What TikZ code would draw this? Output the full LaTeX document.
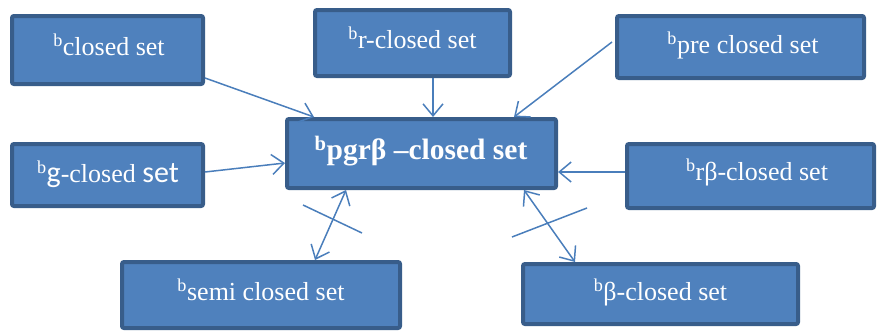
\documentclass[tikz,border=0pt]{standalone}
\usepackage{fontspec}
\setmainfont{Liberation Serif}
\newfontfamily\calibfont{Carlito}
\usetikzlibrary{arrows.meta}
\definecolor{boxfill}{RGB}{79,129,189}
\definecolor{boxline}{RGB}{56,93,138}
\definecolor{arrowc}{RGB}{74,126,187}
\tikzset{
  box/.style={draw=boxline, fill=boxfill, line width=4pt, rounded corners=2pt, inner sep=0pt},
  txt/.style={text=white, font=\fontsize{26}{29}\selectfont, inner sep=0pt},
  conn/.style={draw=arrowc, line width=1.5pt, -{Straight Barb[length=12pt,width=20pt]}},
  dconn/.style={draw=arrowc, line width=1.5pt, {Straight Barb[length=12pt,width=20pt]}-{Straight Barb[length=12pt,width=20pt]}},
  crossl/.style={draw=arrowc, line width=1.5pt}
}
\begin{document}
\begin{tikzpicture}[x=1pt,y=-1pt]
\useasboundingbox (0,0) rectangle (880,332);
% boxes
\node[box, minimum width=191pt, minimum height=68pt] (cs) at (107.5,50) {};
\node[box, minimum width=195pt, minimum height=66pt] (rc) at (412.5,43) {};
\node[box, minimum width=247pt, minimum height=62pt] (pc) at (740.5,47) {};
\node[box, minimum width=269pt, minimum height=69pt] (c) at (421.5,153.5) {};
\node[box, minimum width=191pt, minimum height=62pt] (gc) at (107.5,175) {};
\node[box, minimum width=247pt, minimum height=64pt] (rb) at (750.5,176) {};
\node[box, minimum width=278pt, minimum height=66pt] (sc) at (261,295) {};
\node[box, minimum width=275pt, minimum height=60pt] (bc) at (660.5,294) {};
% texts
\node[txt] (cst) at (109,45) {\textsuperscript{b}closed set};
\node[txt] (rct) at (412.5,38) {\textsuperscript{b}r-closed set};
\node[txt] (pct) at (743,45) {\textsuperscript{b}pre closed set};
\node[txt, font=\fontsize{29.5}{33}\selectfont\bfseries] (ct) at (421,151) {\textsuperscript{b}pgrβ –closed set};
\node[txt] (gct) at (108,174) {\textsuperscript{b}{\calibfont\fontsize{30}{33}\selectfont g}-closed {\calibfont\fontsize{30}{33}\selectfont set}};
\node[txt] (rbt) at (757,172) {\textsuperscript{b}rβ-closed set};
\node[txt] (sct) at (261,290) {\textsuperscript{b}semi closed set};
\node[txt] (bct) at (660.5,292) {\textsuperscript{b}β-closed set};
% connectors
\draw[conn] ([yshift=8pt]cs.south east) -- ([xshift=29pt]c.north west);
\draw[conn] ([xshift=20.5pt]rc.south) -- ([xshift=11.5pt]c.north);
\draw[conn] ([xshift=-3pt,yshift=5pt]pc.west) -- ([xshift=-44pt]c.north east);
\draw[conn] ([yshift=3pt]gc.east) -- ([yshift=-9.5pt]c.west);
\draw[conn] ([yshift=4pt]rb.west) -- ([yshift=-18.5pt]c.east);
\draw[dconn] ([xshift=54pt]sc.north) -- ([xshift=61pt]c.south west);
\draw[dconn] ([xshift=54pt]bc.north west) -- ([xshift=-34pt]c.south east);
% crossing strokes
\coordinate (x1a) at (303,205); \coordinate (x1b) at (362,233);
\coordinate (x2a) at (512,237); \coordinate (x2b) at (587,208);
\draw[crossl] (x1a) -- (x1b);
\draw[crossl] (x2a) -- (x2b);
\end{tikzpicture}
\end{document}
